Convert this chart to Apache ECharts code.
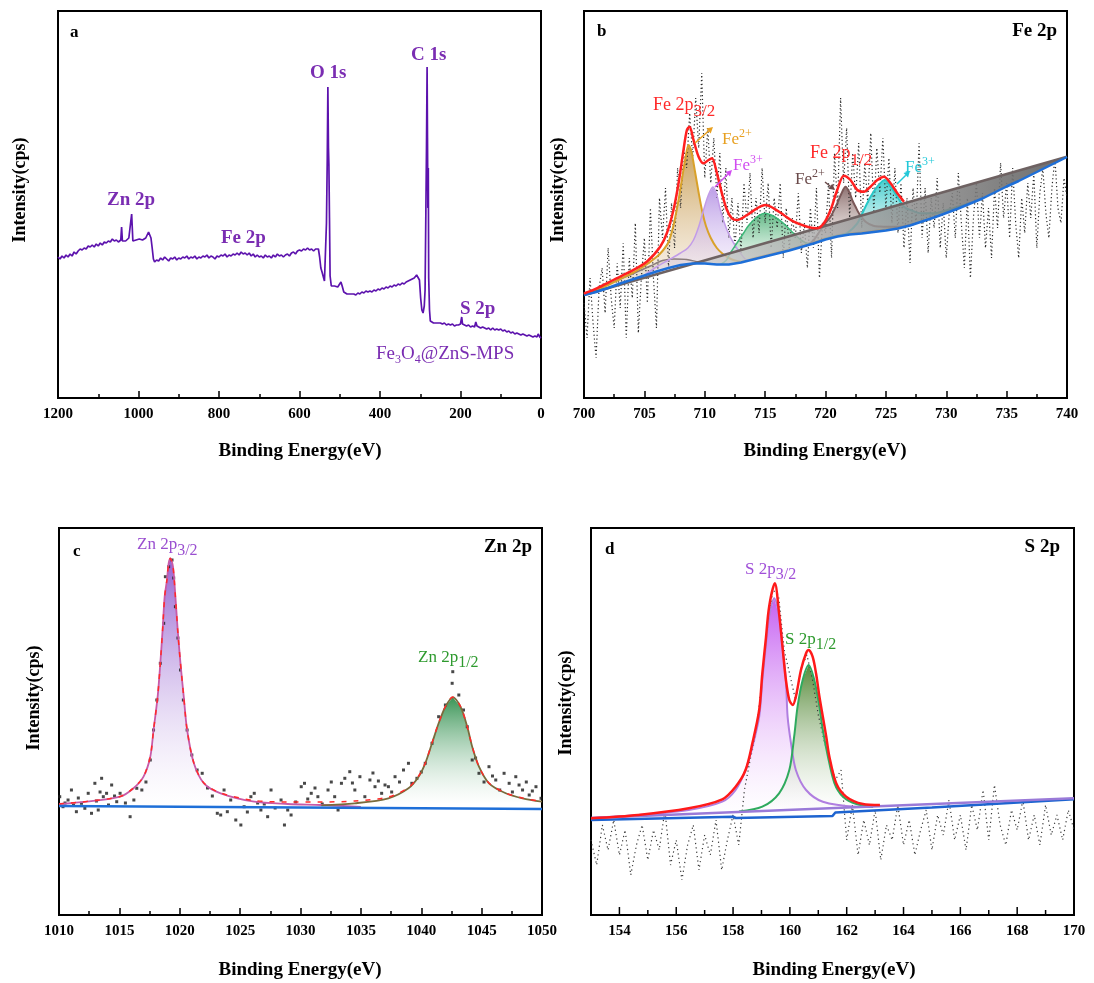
<!DOCTYPE html>
<html><head><meta charset="utf-8">
<script src="https://cdn.jsdelivr.net/npm/echarts@6/dist/echarts.min.js"></script>
<style>html,body{margin:0;padding:0;background:#fff}#c{width:1094px;height:983px}</style>
</head><body><div id="c"></div>
<script>
// ===== Panel a: survey spectrum [binding energy, intensity (a.u.)] =====
const aSurvey = [[1200,141],[1195,139],[1190,142],[1185,140],[1180,143],[1175,141],[1170,144],[1165,142],[1160,146],[1155,144],[1150,147],[1145,149],[1140,148],[1135,150],[1130,149],[1125,152],[1120,151],[1115,153],[1110,151],[1105,154],[1100,152],[1095,155],[1090,153],[1085,156],[1080,155],[1075,157],[1070,156],[1065,159],[1060,157],[1055,158],[1050,156],[1046,157],[1044,158],[1042,171],[1040,157],[1036,159],[1032,157],[1028,158],[1024,160],[1020,158],[1017,184],[1014,157],[1010,156],[1006,158],[1002,157],[998,159],[994,161],[990,158],[986,157],[982,160],[978,162],[975,166],[972,165],[969,160],[966,150],[963,139],[960,136],[955,138],[950,137],[945,140],[940,138],[935,141],[930,139],[925,137],[920,140],[915,139],[910,141],[905,138],[900,140],[895,139],[890,141],[885,140],[880,142],[875,139],[870,141],[865,140],[860,142],[855,139],[850,141],[845,140],[840,142],[835,141],[830,143],[825,140],[820,142],[815,141],[810,139],[805,142],[800,141],[795,143],[790,142],[785,144],[780,141],[775,143],[770,142],[765,144],[760,143],[755,145],[750,143],[745,146],[740,144],[735,145],[730,143],[725,145],[720,142],[715,144],[710,141],[705,143],[700,141],[695,142],[690,140],[685,143],[680,141],[675,142],[670,140],[665,143],[660,141],[655,144],[650,142],[645,143],[640,141],[635,143],[630,144],[625,142],[620,145],[615,146],[610,144],[605,147],[600,148],[595,147],[590,149],[585,148],[580,150],[575,148],[570,149],[565,147],[560,149],[556,150],[553,149],[550,141],[547,130],[544,126],[541,124],[538,117],[535,115],[533,175],[531,240],[529.5,311],[528,250],[527,234],[525.5,180],[524,122],[521,112],[517,111],[513,112],[509,110],[505,111],[501,113],[497,116],[494,112],[490,106],[486,105],[482,104],[478,103],[474,104],[470,102],[465,104],[460,103],[455,105],[450,104],[445,106],[440,105],[435,107],[430,106],[425,107],[420,106],[415,108],[410,107],[405,109],[400,108],[395,110],[390,109],[385,111],[380,110],[375,112],[370,111],[365,113],[360,112],[355,114],[350,113],[345,115],[340,114],[335,116],[330,117],[325,118],[320,119],[315,120],[312,122],[309,123],[306,121],[302,118],[299,100],[296,88],[293,85],[290,92],[288,108],[286,188],[284.5,250],[283,331],[282,260],[281,190],[280,230],[279,120],[277,88],[275,77],[271,76],[267,75],[263,76],[259,75],[255,74],[250,75],[245,74],[240,75],[235,73],[230,74],[225,73],[220,74],[215,72],[210,73],[205,73],[200,74],[197,81],[195,74],[190,73],[185,72],[180,73],[175,71],[170,72],[165,71],[162,76],[159,72],[155,71],[150,70],[145,71],[140,70],[135,69],[130,70],[125,68],[120,70],[115,68],[110,69],[105,68],[100,69],[95,67],[90,68],[85,66],[80,67],[75,65],[70,66],[65,64],[60,65],[55,64],[50,63],[45,64],[40,63],[35,62],[30,63],[25,62],[20,61],[15,62],[10,61],[7,64],[5,66],[3,61],[0,60]];

// ===== Panel b: Fe 2p =====
const bStart = 700, bStep = 0.25;   // scan grid of the raw data
const bRaw = [95,60,120,75, 40,110,130,85, 150,100,70,135, 90,155,60,140, 100,175,65,120, 160,95,190,120, 70,200,160,210, 130,195,150,230, 190,250,230,285, 240,300,250,325, 220,270,215,260, 200,245,175,230, 160,200,150,195, 145,215,175,225, 160,200,165,230, 175,215,150,200, 170,215,140,190, 150,180,160,205, 145,175,130,190, 150,210,120,175, 165,215,140,245, 190,300,215,270, 180,245,200,255, 170,235,195,265, 185,250,205,260, 190,240,175,230, 165,215,150,200, 135,210,175,255, 160,210,145,200, 170,220,150,195, 140,185,205,160, 225,175,130,200, 120,180,215,160, 205,150,190,140, 210,170,235,180, 215,160,230,175, 140,200,165,215, 180,225,150,205, 230,185,160,210, 240,190,175,220, 200];
const bBackground = [[700,103],[701,106],[702,110],[703,114.5],[704,118.5],[705,122.5],[706,126.5],[707,130],[708,133],[709,134.5],[710,134.5],[711,133.5],[712,133.5],[713,135.5],[714,138.5],[715,141.5],[716,144.5],[717,147.5],[718,151],[719,154.5],[720,158.5],[721,161.5],[722,163.5],[723,164.5],[724,166],[725,167.5],[726,169.5],[727,172.5],[728,176.5],[729,180.5],[730,185],[731,189.5],[732,194.5],[733,199.5],[734,205.5],[735,211.5],[736,217],[737,223],[738,229],[739,235],[740,241]];
const bLinearBg = [[700,103],[740,241.3]];
const bWedgeTop = [[709,134.5],[740,241.3]];
const bBump = [[700,104],[702,114],[704,124],[705.5,132],[706.5,137.5],[707.5,139],[708.5,138.5],[709.5,136],[710.5,134.5]];
const bFe2p32_Fe2 = [[700,104],[701,108],[702,113],[703,119],[704,125],[705,132],[706,141],[706.5,147],[707,156],[707.4,172],[707.8,196],[708.1,218],[708.4,240],[708.66,253],[708.9,246],[709.2,226],[709.5,205],[709.8,186],[710.1,172],[710.5,160],[711,150],[711.5,144],[712,140],[712.5,137.5],[713,136.5],[714,139.5],[715,142.5],[716,145.5],[717,148.5],[718,152],[719,155.5],[720,159.5],[721,162.5],[722,164.5],[723,165.5],[724,167],[725,168.5],[726,170.5]];
const bFe2p32_Fe3 = [[705,123],[706,131],[707,138],[708,145],[708.6,150],[709.07,158],[709.49,171],[709.9,188],[710.3,203],[710.68,211],[711,203],[711.29,188],[711.84,168],[712.39,155],[712.95,145],[713.5,138],[714,138.5]];
const bSatellite = [[711.3,133.5],[711.8,138],[712.12,145],[712.67,155],[713.22,165],[713.6,172],[714.05,178],[714.5,182.5],[715.02,184.7],[715.5,183],[715.99,179.7],[716.4,176],[716.82,171.3],[717.2,166.5],[717.65,161.3],[718.1,157],[718.48,154.7],[719,155]];
const bFe2p12_Fe2 = [[718.5,152.5],[719.03,158],[719.59,168],[720,175],[720.42,181.3],[720.97,194.7],[721.3,204],[721.66,211.3],[722,205],[722.21,198],[722.5,191],[722.77,184.7],[723.32,176.3],[724.01,172],[724.5,171.5],[725.12,171.3],[725.6,171.3],[726.22,171.3],[726.8,172.5],[727.33,174]];
const bFe2p12_Fe3 = [[719.5,157],[720.5,161],[721.3,163],[721.8,165],[722.63,174.7],[723.18,188],[723.73,201.3],[724.29,211.3],[724.9,218],[725.39,211.3],[725.95,201.3],[726.5,191.3],[727.05,188],[727.88,184.7],[728.99,184.7],[730.1,188],[731.48,193],[732,195]];
const bEnvelope = [[700,104.5],[701.05,109.7],[702.43,118],[703.82,126.3],[705.2,136.3],[706.31,151.3],[706.86,164.7],[707.41,188],[707.83,214.7],[708.24,248],[708.52,268],[708.74,271.3],[709.07,258],[709.49,241.3],[709.9,234.7],[710.32,238],[710.6,239.7],[711.01,224.7],[711.42,204.7],[711.84,188],[712.25,179.7],[712.67,178],[713.5,183],[714.33,189.7],[715.02,193],[715.71,189.7],[716.54,183],[717.37,176.3],[718.48,171.3],[719.31,169.7],[719.86,174.7],[720.42,188],[720.97,208],[721.52,222.3],[722.07,218],[722.63,208],[723.18,206.3],[723.73,211.3],[724.29,218],[724.84,221.3],[725.39,214.7],[725.95,204.7],[726.5,196.3]];

// ===== Panel c: Zn 2p =====
const cRaw = [[1010.06,103.3],[1010.33,93.3],[1010.5,97],[1010.75,100],[1011.03,110],[1011.2,95],[1011.44,88.3],[1011.6,102],[1011.86,96.7],[1012.14,91.7],[1012.42,106.7],[1012.69,86.7],[1012.97,116.7],[1013.1,99],[1013.25,90],[1013.4,108],[1013.53,121.7],[1013.67,103.3],[1013.94,106.7],[1014.1,95],[1014.36,115],[1014.6,104],[1014.78,98.3],[1015.06,106.7],[1015.5,97],[1015.89,83.3],[1016.2,100],[1016.44,111.7],[1016.86,110],[1017.2,118],[1017.56,140],[1017.83,170],[1018.1,200],[1018.39,236.7],[1018.67,276.7],[1018.81,323.3],[1019.08,333.3],[1019.36,340],[1019.5,322],[1019.64,293.3],[1019.85,262],[1020.06,230],[1020.3,200],[1020.61,170],[1021.0,145],[1021.44,130],[1021.86,126.7],[1022.3,112],[1022.7,104],[1023.11,86.7],[1023.39,85],[1023.67,110],[1023.94,88.3],[1024.22,100],[1024.64,80],[1025.06,75],[1025.33,93.3],[1025.6,88],[1025.89,103.3],[1026.17,106.7],[1026.45,97],[1026.72,90],[1027.0,96],[1027.28,83.3],[1027.56,110],[1027.9,92],[1028.39,100],[1028.67,75],[1028.94,90],[1029.22,85],[1029.6,98],[1030.06,113.3],[1030.33,116.7],[1030.6,101],[1030.89,106.7],[1031.2,112],[1031.44,103.3],[1031.8,96],[1032.28,110],[1032.55,118],[1032.83,103.3],[1033.11,90],[1033.39,116.7],[1033.67,121.7],[1034.08,128.3],[1034.3,117],[1034.5,110],[1034.92,123.3],[1035.33,103.3],[1035.75,120],[1036.0,127],[1036.17,113.3],[1036.45,119],[1036.72,106.7],[1037.0,115],[1037.28,113.3],[1037.55,108],[1037.83,123.3],[1038.2,118],[1038.53,130],[1038.94,136.7],[1039.22,116.7],[1039.64,121.7],[1040.0,128],[1040.33,136.7],[1040.89,156.7],[1041.44,183.3],[1042.0,195],[1042.56,216.7],[1042.61,228.3],[1043.11,205],[1043.5,190],[1043.81,173.3],[1044.22,140],[1044.5,142],[1044.78,126.7],[1045.2,118],[1045.61,133.3],[1045.9,124],[1046.17,120],[1046.5,110],[1046.86,126.7],[1047.28,116.7],[1047.55,108],[1047.83,123.3],[1048.1,115],[1048.39,110],[1048.7,118],[1048.94,105],[1049.2,109],[1049.5,113.3],[1049.92,101.7]];
const cBackground = [[1010,94],[1050,91]];
const cZn2p32 = [[1010,96],[1012.28,98.3],[1015.06,103.3],[1016.17,111.7],[1017,123.3],[1017.56,143.3],[1017.83,170],[1018.17,203.3],[1018.39,236.7],[1018.58,270],[1018.75,303.3],[1018.94,320],[1019.08,336.7],[1019.22,341.7],[1019.44,333.3],[1019.64,303.3],[1019.83,270],[1020.06,236.7],[1020.33,203.3],[1020.61,170],[1021.17,136.7],[1022,116.7],[1023.39,106.7],[1026.17,98.3],[1028.94,96],[1031.72,95],[1035,93.2]];
const cZn2p12 = [[1031.72,94.7],[1034.5,96.7],[1037.28,101.7],[1038.94,111.7],[1039.78,123.3],[1040.33,136.7],[1040.89,156.7],[1041.44,176.7],[1042,193.3],[1042.61,202.7],[1043.25,193.3],[1043.81,173.3],[1044.22,153.3],[1044.78,133.3],[1045.61,116.7],[1047,106.7],[1048.39,101.7],[1050,98.3]];
const cEnvelope = [[1010,96],[1012.28,98.5],[1015.06,103.5],[1016.17,112],[1017,123.5],[1017.56,143.5],[1017.83,170],[1018.17,203.3],[1018.39,236.7],[1018.58,270],[1018.75,303.3],[1018.94,320],[1019.08,336.7],[1019.22,341.7],[1019.44,333.3],[1019.64,303.3],[1019.83,270],[1020.06,236.7],[1020.33,203.3],[1020.61,170],[1021.17,137],[1022,117],[1023.39,107],[1026.17,99.5],[1028.94,98],[1031.72,98],[1034.5,99],[1037.28,103],[1038.94,112.5],[1039.78,124],[1040.33,137],[1040.89,157],[1041.44,177],[1042,193.5],[1042.61,203],[1043.25,193.5],[1043.81,173.5],[1044.22,153.5],[1044.78,133.5],[1045.61,117],[1047,107],[1048.39,102],[1050,98.5]];

// ===== Panel d: S 2p =====
const dStart = 153, dStep = 0.2;
const dRaw = [60,35,75,50,80,45,70,25,55,75, 40,70,50,90,35,60,20,55,75,30, 65,45,80,30,60,85,55,110,140,165, 215,270,310,305,250,225,200,232,245,220, 185,160,140,120,130,60,95,45,80,55, 90,40,75,60,95,55,80,45,70,90, 50,85,65,100,60,85,50,95,70,110, 60,115,75,55,90,70,100,60,85,55, 95,65,85,60,90,70];
const dBgPurple = [[153,82],[170,101.7]];
const dBgBlue = [[153,80],[158,83.3],[158.1,82],[161.5,84],[161.6,87.5],[165,92.5],[170,100.7]];
const dS2p32 = [[153,82],[154.66,85],[156.44,90],[157.62,98.3],[158.09,110],[158.44,130],[158.68,153.3],[158.92,183.3],[159.03,220],[159.15,253.3],[159.27,283.3],[159.45,301.7],[159.62,283.3],[159.74,253.3],[159.86,220],[159.92,183.3],[160.04,156.7],[160.21,130],[160.57,110],[161.16,98.3],[162.34,93.3],[162.93,93]];
const dS2p12 = [[158.21,88.5],[159.03,93.3],[159.62,106.7],[159.98,130],[160.15,163.3],[160.27,193.3],[160.45,220],[160.66,235],[160.86,220],[161.04,193.3],[161.16,170],[161.34,143.3],[161.57,116.7],[161.87,103.3],[162.34,96],[162.93,93.3]];
const dEnvelope = [[153,81.7],[154.66,85],[156.44,91.7],[157.62,100.7],[158.09,113.3],[158.44,130],[158.68,156.7],[158.92,190],[159.03,226.7],[159.15,260],[159.27,293.3],[159.47,316.7],[159.62,286.7],[159.74,253.3],[159.86,220],[159.98,200],[160.1,195],[160.21,203.3],[160.39,230],[160.57,246.7],[160.66,250],[160.8,243.3],[160.92,226.7],[161.04,203.3],[161.16,183.3],[161.28,163.3],[161.39,143.3],[161.63,116.7],[161.98,103.3],[162.57,96],[163.17,95]];

// ===== tick labels =====
const aTicks = [1200,1000,800,600,400,200,0];
const bTicks = [700,705,710,715,720,725,730,735,740];
const cTicks = [1010,1015,1020,1025,1030,1035,1040,1045,1050];
const dTicks = [154,156,158,160,162,164,166,168,170];
const dMinor = [155,157,159,161,163,165,167,169];

// ================= build =================
const SERIF = '"Liberation Serif","Times New Roman",serif';
const bRawPts = bRaw.map((v,i)=>[bStart + i*bStep, v]);
const dRawPts = dRaw.map((v,i)=>[+(dStart + i*dStep).toFixed(2), v]);

const grids = [
  {left:58, top:11, width:483, height:387},
  {left:584, top:11, width:483, height:387},
  {left:59, top:528, width:483, height:387},
  {left:591, top:528, width:483, height:387}
].map(g=>Object.assign(g,{show:true, borderColor:'#000', borderWidth:2, backgroundColor:'rgba(0,0,0,0)'}));

function xAx(gi, min, max, interval, ticks, extra){
  return Object.assign({type:'value', gridIndex:gi, min, max, interval,
    axisLine:{show:true, onZero:false, lineStyle:{color:'#000', width:2}},
    axisTick:{show:true, inside:true, length:7, lineStyle:{color:'#000', width:1.5}},
    minorTick:{show:true, splitNumber:2, length:4, lineStyle:{color:'#000', width:1.5}},
    axisLabel:{show:true, margin:9, fontFamily:SERIF, fontWeight:'bold', fontSize:15, color:'#000',
      formatter: v => (ticks.indexOf(Math.round(v*100)/100) >= 0 ? String(Math.round(v)) : '')},
    splitLine:{show:false}, minorSplitLine:{show:false}}, extra||{});
}
const xAxes = [
  xAx(0, 0, 1200, 200, aTicks, {inverse:true}),
  xAx(1, 700, 740, 5, bTicks),
  xAx(2, 1010, 1050, 5, cTicks),
  xAx(3, 153, 170, 1, dTicks, {minorTick:{show:false}, axisTick:{show:false}})
];
function yAx(gi, min, max){ return {type:'value', gridIndex:gi, min, max, axisLine:{show:false}, axisTick:{show:false}, axisLabel:{show:false}, splitLine:{show:false}}; }
const yAxes = [yAx(0,0,387), yAx(1,0,387), yAx(2,-15,372), yAx(3,-15,372)];

function lineS(gi, data, color, width, z, opts){
  return Object.assign({type:'line', xAxisIndex:gi, yAxisIndex:gi, data, symbol:'none', showSymbol:false,
    lineStyle:{color, width}, z:z||4, silent:true, animation:false}, opts||{});
}
function fillS(gi, top, base, c1, c2, z, horiz){
  const e0 = top[0][0], e1 = top[top.length-1][0];
  const bottom = base.filter(p => p[0] > e0 && p[0] < e1).slice().reverse();
  const pts = top.concat(bottom);
  return {type:'custom', xAxisIndex:gi, yAxisIndex:gi, z:z||2, silent:true, animation:false, clip:true,
    data: pts,
    renderItem: function(params, api){
      if (params.dataIndex !== 0) return null;
      const poly = pts.map(p => api.coord(p));
      return {type:'polygon', shape:{points:poly}, style:{
        fill: horiz ? new echarts.graphic.LinearGradient(0,0,1,0,[{offset:0,color:c1},{offset:1,color:c2}])
                    : new echarts.graphic.LinearGradient(0,0,0,1,[{offset:0,color:c1},{offset:1,color:c2}])}};
    }};
}

const series = [
  lineS(0, aSurvey, '#5c12ad', 1.7, 4),
  fillS(1, bBump, bBackground, 'rgba(170,165,165,0.55)', 'rgba(235,235,235,0.4)', 1),
  fillS(1, bFe2p32_Fe2, bBackground, 'rgba(196,150,70,0.9)', 'rgba(245,235,222,0.45)', 1),
  fillS(1, bFe2p32_Fe3, bBackground, 'rgba(176,140,226,0.85)', 'rgba(240,232,250,0.4)', 1),
  fillS(1, bSatellite, bBackground, 'rgba(70,172,112,0.85)', 'rgba(220,242,228,0.45)', 1),
  fillS(1, bFe2p12_Fe2, bBackground, 'rgba(128,96,96,0.9)', 'rgba(230,220,215,0.45)', 1),
  fillS(1, bFe2p12_Fe3, bBackground, 'rgba(40,196,196,0.85)', 'rgba(210,244,244,0.45)', 1),
  lineS(1, bRawPts, '#2a2a2a', 1.2, 3, {lineStyle:{color:'#2a2a2a', width:1.2, type:[1.2,2.6]}}),
  fillS(1, bWedgeTop, bBackground, 'rgba(205,205,205,0.75)', 'rgba(95,95,95,0.92)', 5, true),
  lineS(1, bBump, '#8a7c7c', 1.5, 4, {smooth:0.3}),
  lineS(1, bFe2p32_Fe2, '#d9a12a', 2, 4, {smooth:0.3}),
  lineS(1, bFe2p32_Fe3, '#c29ce8', 1.5, 4, {smooth:0.3}),
  lineS(1, bSatellite, '#3cb878', 1.5, 4, {smooth:0.3}),
  lineS(1, bFe2p12_Fe2, '#7a5858', 2, 4, {smooth:0.3}),
  lineS(1, bFe2p12_Fe3, '#28c8c8', 2, 4, {smooth:0.3}),
  lineS(1, bLinearBg, '#6e6262', 2.5, 6),
  lineS(1, bBackground, '#1e6fd8', 2.5, 6),
  lineS(1, bEnvelope, '#ff2020', 2.5, 7, {smooth:0.3}),
  fillS(2, cZn2p32, cBackground, 'rgba(140,84,205,0.92)', 'rgba(255,255,255,0.3)', 1),
  fillS(2, cZn2p12, cBackground, 'rgba(42,140,72,0.92)', 'rgba(255,255,255,0.3)', 1),
  {type:'scatter', xAxisIndex:2, yAxisIndex:2, data:cRaw, symbol:'rect', symbolSize:3, itemStyle:{color:'#1a1a1a'}, z:3, silent:true, animation:false},
  lineS(2, cZn2p32, '#c85aa8', 1.8, 4, {smooth:0.3}),
  lineS(2, cZn2p12, '#7a6b3c', 1.8, 4, {smooth:0.3}),
  lineS(2, cEnvelope, '#ff2a2a', 1.5, 5, {smooth:0.3, lineStyle:{color:'#ff2a2a', width:1.5, type:[5,7]}}),
  lineS(2, cBackground, '#1e6fd8', 2.5, 6),
  fillS(3, dS2p32, dBgPurple, 'rgba(192,82,240,0.92)', 'rgba(255,255,255,0.3)', 1),
  fillS(3, dS2p12, dBgPurple, 'rgba(72,128,40,0.92)', 'rgba(255,255,255,0.3)', 1),
  lineS(3, dRawPts, '#3a3a3a', 1.2, 3, {lineStyle:{color:'#3a3a3a', width:1.2, type:[1.2,3.2]}}),
  lineS(3, dS2p32, '#b07ee0', 2, 4, {smooth:0.3}),
  lineS(3, dS2p12, '#2faa5e', 2, 4, {smooth:0.3}),
  lineS(3, dBgBlue, '#1e64d0', 2.5, 5),
  lineS(3, dBgPurple, '#9a7ad8', 2.5, 5),
  lineS(3, dEnvelope, '#ff1a1a', 2.5, 6, {smooth:0.3})
];

// ===== annotation graphics =====
const mctx = document.createElement('canvas').getContext('2d');
function tw(t, size, weight){ mctx.font = (weight||'normal')+' '+size+'px '+SERIF; return mctx.measureText(t).width; }
function txt(x, y, text, size, color, weight, align, rot){
  const el = {type:'text', x, y, z:100, silent:true, style:{text, fontFamily:SERIF, fontSize:size, fill:color, fontWeight:weight||'normal', align:align||'left', verticalAlign:'middle'}};
  if (rot) el.rotation = rot;
  return el;
}
function compound(x, y, parts, color, weight){
  const out = []; let cx = x;
  parts.forEach(p => { out.push(txt(cx, y + p[2], p[0], p[1], color, weight)); cx += tw(p[0], p[1], weight); });
  return out;
}
function arrow(x1, y1, x2, y2, color){
  const a = Math.atan2(y2-y1, x2-x1), L = 6, W = 3.2;
  const bx = x2 - L*Math.cos(a), by = y2 - L*Math.sin(a);
  return [
    {type:'line', z:100, silent:true, shape:{x1, y1, x2:bx, y2:by}, style:{stroke:color, lineWidth:1.5}},
    {type:'polygon', z:100, silent:true, shape:{points:[[x2,y2],[bx - W*Math.sin(a), by + W*Math.cos(a)],[bx + W*Math.sin(a), by - W*Math.cos(a)]]}, style:{fill:color}}
  ];
}
const PUR = '#7a2db2';
let g = [];
[[300,451],[825,451],[300,970],[834,970]].forEach(p => g.push(txt(p[0], p[1], 'Binding Energy(eV)', 19, '#000', 'bold', 'center')));
[[20,190],[558,190],[34,698],[566,703]].forEach(p => g.push(txt(p[0], p[1], 'Intensity(cps)', 18, '#000', 'bold', 'center', Math.PI/2)));
g.push(txt(70, 33, 'a', 17, '#000', 'bold'));
g.push(txt(597, 32, 'b', 17, '#000', 'bold'));
g.push(txt(1057, 31, 'Fe 2p', 19, '#000', 'bold', 'right'));
g.push(txt(73, 552, 'c', 17, '#000', 'bold'));
g.push(txt(532, 547, 'Zn 2p', 19, '#000', 'bold', 'right'));
g.push(txt(605, 550, 'd', 17, '#000', 'bold'));
g.push(txt(1060, 547, 'S 2p', 19, '#000', 'bold', 'right'));
g.push(txt(310, 73, 'O 1s', 19, PUR, 'bold'));
g.push(txt(411, 55, 'C 1s', 19, PUR, 'bold'));
g.push(txt(107, 200, 'Zn 2p', 19, PUR, 'bold'));
g.push(txt(221, 238, 'Fe 2p', 19, PUR, 'bold'));
g.push(txt(460, 309, 'S 2p', 19, PUR, 'bold'));
g = g.concat(compound(376, 354, [['Fe',19,0],['3',12,6],['O',19,0],['4',12,6],['@ZnS-MPS',19,0]], PUR, 'normal'));
g = g.concat(compound(653, 105, [['Fe 2p',18,0],['3/2',17,7]], '#ff2a2a'));
g = g.concat(compound(722, 140, [['Fe',17,0],['2+',12,-6]], '#e8a020'));
g = g.concat(arrow(695, 143, 713, 127, '#e8a020'));
g = g.concat(compound(733, 166, [['Fe',17,0],['3+',12,-6]], '#d04cf0'));
g = g.concat(arrow(715, 187, 732, 170, '#d04cf0'));
g = g.concat(compound(810, 153, [['Fe 2p',18,0],['1/2',17,8]], '#ff2a2a'));
g = g.concat(compound(795, 180, [['Fe',17,0],['2+',12,-6]], '#6a4a4a'));
g = g.concat(arrow(825, 182, 835, 190, '#6a4a4a'));
g = g.concat(compound(905, 168, [['Fe',17,0],['3+',12,-6]], '#22c8d8'));
g = g.concat(arrow(897, 184, 910, 171, '#22c8d8'));
g = g.concat(compound(137, 545, [['Zn 2p',17,0],['3/2',16,6]], '#9a4fd0'));
g = g.concat(compound(418, 658, [['Zn 2p',17,0],['1/2',16,5]], '#2e9a2e'));
g = g.concat(compound(745, 570, [['S 2p',17,0],['3/2',16,5]], '#a050d8'));
g = g.concat(compound(785, 640, [['S 2p',17,0],['1/2',16,5]], '#2e9a2e'));

const chart = echarts.init(document.getElementById('c'));
chart.setOption({animation:false, backgroundColor:'#fff', grid:grids, xAxis:xAxes, yAxis:yAxes, series});
// panel d tick marks, positioned through the d axis scale
function dTick(v, len){
  const p = chart.convertToPixel({xAxisIndex:3, yAxisIndex:3}, [v, -15]);
  return {type:'line', z:120, silent:true, shape:{x1:p[0], y1:p[1]-1, x2:p[0], y2:p[1]-1-len}, style:{stroke:'#000', lineWidth:1.5}};
}
dTicks.forEach(v => g.push(dTick(v, 7)));
dMinor.forEach(v => g.push(dTick(v, 4)));
chart.setOption({graphic:g});
</script></body></html>
